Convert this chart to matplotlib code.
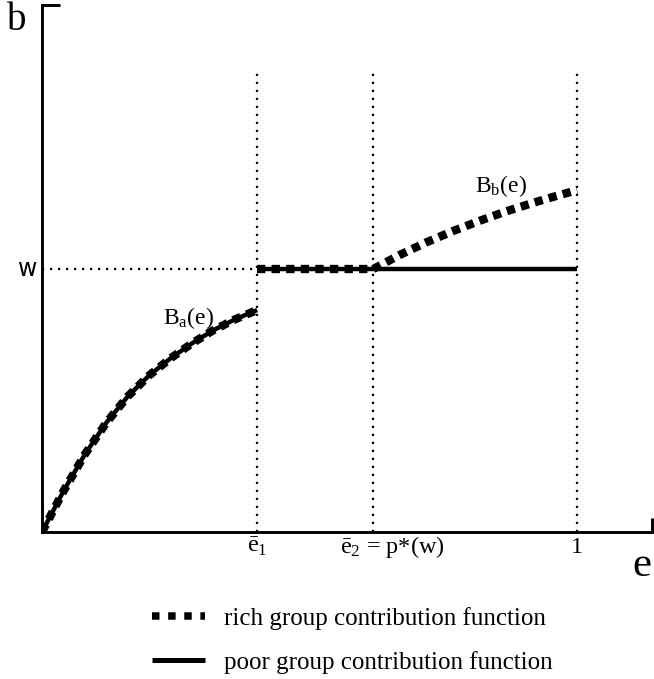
import matplotlib
matplotlib.use("Agg")
import matplotlib.pyplot as plt
from matplotlib.lines import Line2D

plt.rcParams['font.family'] = ['Liberation Serif', 'DejaVu Serif']
plt.rcParams['mathtext.fontset'] = 'custom'
plt.rcParams['mathtext.rm'] = 'Liberation Serif'
plt.rcParams['mathtext.it'] = 'Liberation Serif:italic'

# ---- data (w normalised to 1) ----
e1 = 0.402
e2 = 0.619
e_max = 1.0
w = 1.0

ba_e = [0.0, 0.04, 0.08, 0.12, 0.16, 0.20, 0.24, 0.28, 0.32, 0.36, 0.402]
ba_b = [0.0, 0.155, 0.295, 0.415, 0.515, 0.595, 0.660, 0.717, 0.767, 0.808, 0.844]

bb_e = [0.619, 0.67, 0.72, 0.77, 0.82, 0.87, 0.92, 0.96, 1.0]
bb_b = [1.0, 1.055, 1.103, 1.146, 1.185, 1.221, 1.253, 1.277, 1.300]

xtick_labels = [r'$\bar{\mathrm{e}}_1$', r'$\bar{\mathrm{e}}_2$ = p*(w)', '1']
legend_labels = ['rich group contribution function', 'poor group contribution function']

# ---- figure ----
W, H = 654, 679
fig = plt.figure(figsize=(W / 100, H / 100), dpi=100)
x0, y0, x1, y1 = 42, 532, 652, 5
ax = fig.add_axes([x0 / W, (H - y0) / H, (x1 - x0) / W, (y0 - y1) / H])
ax.set_xlim(0, 1.140)
ax.set_ylim(0, 2.004)

for s in ['top', 'right']:
    ax.spines[s].set_visible(False)
for s in ['left', 'bottom']:
    ax.spines[s].set_linewidth(2.1)
# hooks at the ends of axes
ax.plot([0, 0.03], [1, 1], transform=ax.transAxes, color='black', lw=2.1,
        clip_on=False, solid_capstyle='butt')
ax.plot([1, 1], [0, 0.027], transform=ax.transAxes, color='black', lw=2.1,
        clip_on=False, solid_capstyle='butt')

ax.set_xticks([])
ax.set_yticks([])

dot_style = (0, (1, 2.6))
vtop = 1.745
for xv in [e1, e2, e_max]:
    ax.plot([xv, xv], [0, vtop], color='black', lw=1.6, linestyle=dot_style,
            dash_capstyle='butt')
ax.plot([0, e1], [w, w], color='black', lw=1.6, linestyle=dot_style,
        dash_capstyle='butt')

rich_style = dict(color='black', lw=6.0, linestyle=(0, (1, 0.75)),
                  dash_capstyle='butt', solid_capstyle='butt')
poor_style = dict(color='black', lw=3.2, solid_capstyle='butt')

# poor group
ax.plot(ba_e, ba_b, **poor_style)
ax.plot([e1, e_max], [w, w], **poor_style)
# rich group
ax.plot(ba_e, ba_b, **rich_style)
ax.plot([e1, e2], [w, w], **rich_style)
ax.plot(bb_e, bb_b, **rich_style)

# curve labels
ax.text(0.226, 0.815, r'B$_\mathrm{a}$(e)', fontsize=17, ha='left', va='center')
ax.text(0.809, 1.315, r'B$_\mathrm{b}$(e)', fontsize=17, ha='left', va='center')

# tick labels
tr = ax.get_xaxis_transform()
ly = -0.0285
ax.text(e1, ly, xtick_labels[0], transform=tr, fontsize=17.5, ha='center', va='center')
ax.text(e2 - 0.062, ly, xtick_labels[1], transform=tr, fontsize=17.5, ha='left', va='center')
ax.text(e_max, ly, xtick_labels[2], transform=tr, fontsize=17.5, ha='center', va='center')
ax.text(-0.008, w, 'w', fontsize=17, ha='right', va='center', family='DejaVu Sans')

# axis labels
fig.text(17 / W, 1 - 20 / H, 'b', fontsize=28, ha='center', va='center')
fig.text(651 / W, 1 - 566 / H, 'e', fontsize=31, ha='right', va='center')

# legend
handles = [Line2D([], [], color='black', lw=5.4, linestyle=(0, (1, 1.15)),
                  dash_capstyle='butt'),
           Line2D([], [], color='black', lw=3.6, solid_capstyle='butt')]
fig.legend(handles, legend_labels, loc='upper left',
           bbox_to_anchor=(152 / W, 1 - 607 / H), frameon=False,
           fontsize=18, handlelength=2.1, handletextpad=0.8,
           labelspacing=0.85, borderpad=0, borderaxespad=0)

fig.savefig('out.png', dpi=100)
